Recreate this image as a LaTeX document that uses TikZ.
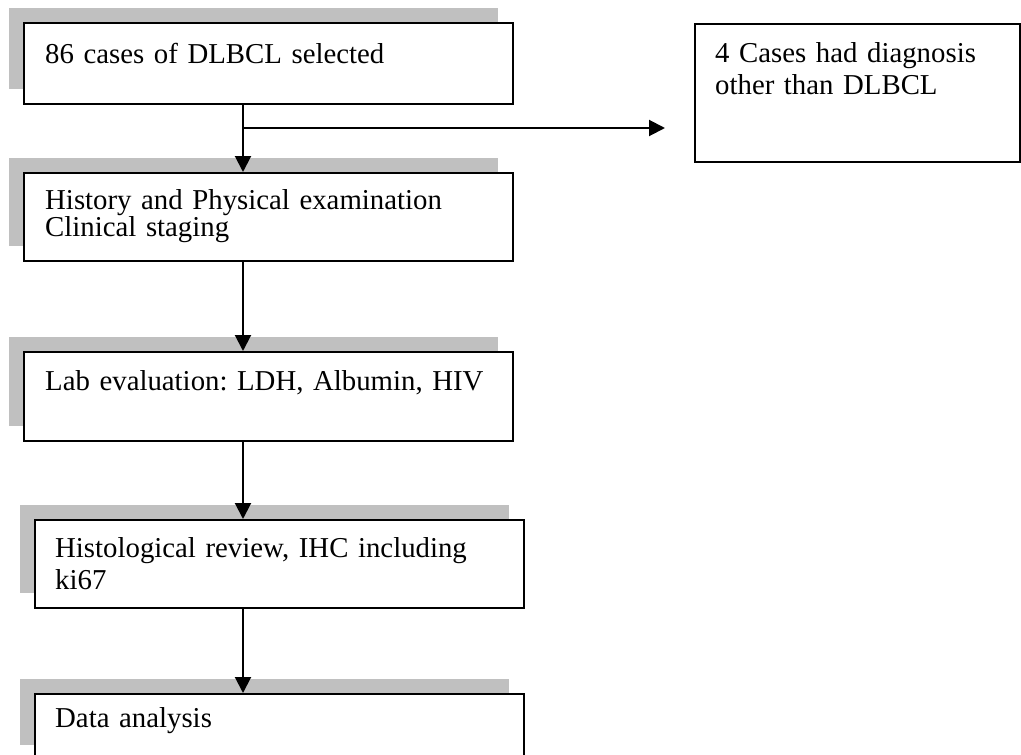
\documentclass[tikz,border=0pt]{standalone}
\usepackage{fontspec}
\setmainfont{Liberation Serif}
\usetikzlibrary{arrows.meta,shadows}
\definecolor{shadegray}{RGB}{192,192,192}
\newcommand\boxfont[1]{\fontsize{28.8}{#1}\selectfont\frenchspacing\spaceskip=6pt\relax}

\begin{document}
\begin{tikzpicture}[x=1pt, y=-1pt,
  stage/.style={draw=black, fill=white, line width=2pt, anchor=north west,
    inner sep=0pt, minimum width=489pt,
    drop shadow={shadow xshift=-15pt, shadow yshift=15pt, fill=shadegray, opacity=1}},
  note/.style={draw=black, fill=white, line width=2pt, anchor=north west,
    inner sep=0pt, minimum width=325pt, minimum height=138pt},
  txt/.style={anchor=base west, inner sep=0pt, align=left, text width=470pt,
    font=\boxfont{32pt}},
  flow/.style={line width=2pt, -{Triangle[length=16pt, width=16pt]}}]
\useasboundingbox (0,0) rectangle (1021,755);

% boxes
\node[stage, minimum height=81pt] (sel)  at (23,22)  {};
\node[stage, minimum height=88pt] (hist) at (23,172) {};
\node[stage, minimum height=89pt] (lab)  at (23,351) {};
\node[stage, minimum height=88pt] (histo) at (34,519) {};
\node[stage, minimum height=66pt] (data) at (34,693) {};
\node[note] (diag) at (694,23) {};

% texts
\node[txt] (selt)  at ([shift={(22pt,-41pt)}]sel.north west) {86 cases of DLBCL selected};
\node[txt, font=\boxfont{27pt}] (histt) at ([shift={(22pt,-37pt)}]hist.north west)
  {History and Physical examination\\Clinical staging};
\node[txt] (labt)  at ([shift={(22pt,-39pt)}]lab.north west) {Lab evaluation: LDH, Albumin, HIV};
\node[txt] (histot) at ([shift={(21pt,-38pt)}]histo.north west) {Histological review, IHC including\\ki67};
\node[txt] (datat) at ([shift={(21pt,-34pt)}]data.north west) {Data analysis};
\node[txt, text width=300pt] (diagt) at ([shift={(21pt,-39pt)}]diag.north west)
  {4 Cases had diagnosis\\other than DLBCL};

% arrows
\coordinate (spine) at (243,0);
\coordinate (fork) at (243,128);
\draw[flow] (sel.south -| spine) -- (hist.north -| spine);
\draw[flow] (fork) -- ([xshift=-29pt]diag.west |- fork);
\draw[flow] (hist.south -| spine) -- (lab.north -| spine);
\draw[flow] (lab.south -| spine) -- (histo.north -| spine);
\draw[flow] (histo.south -| spine) -- (data.north -| spine);
\end{tikzpicture}
\end{document}
